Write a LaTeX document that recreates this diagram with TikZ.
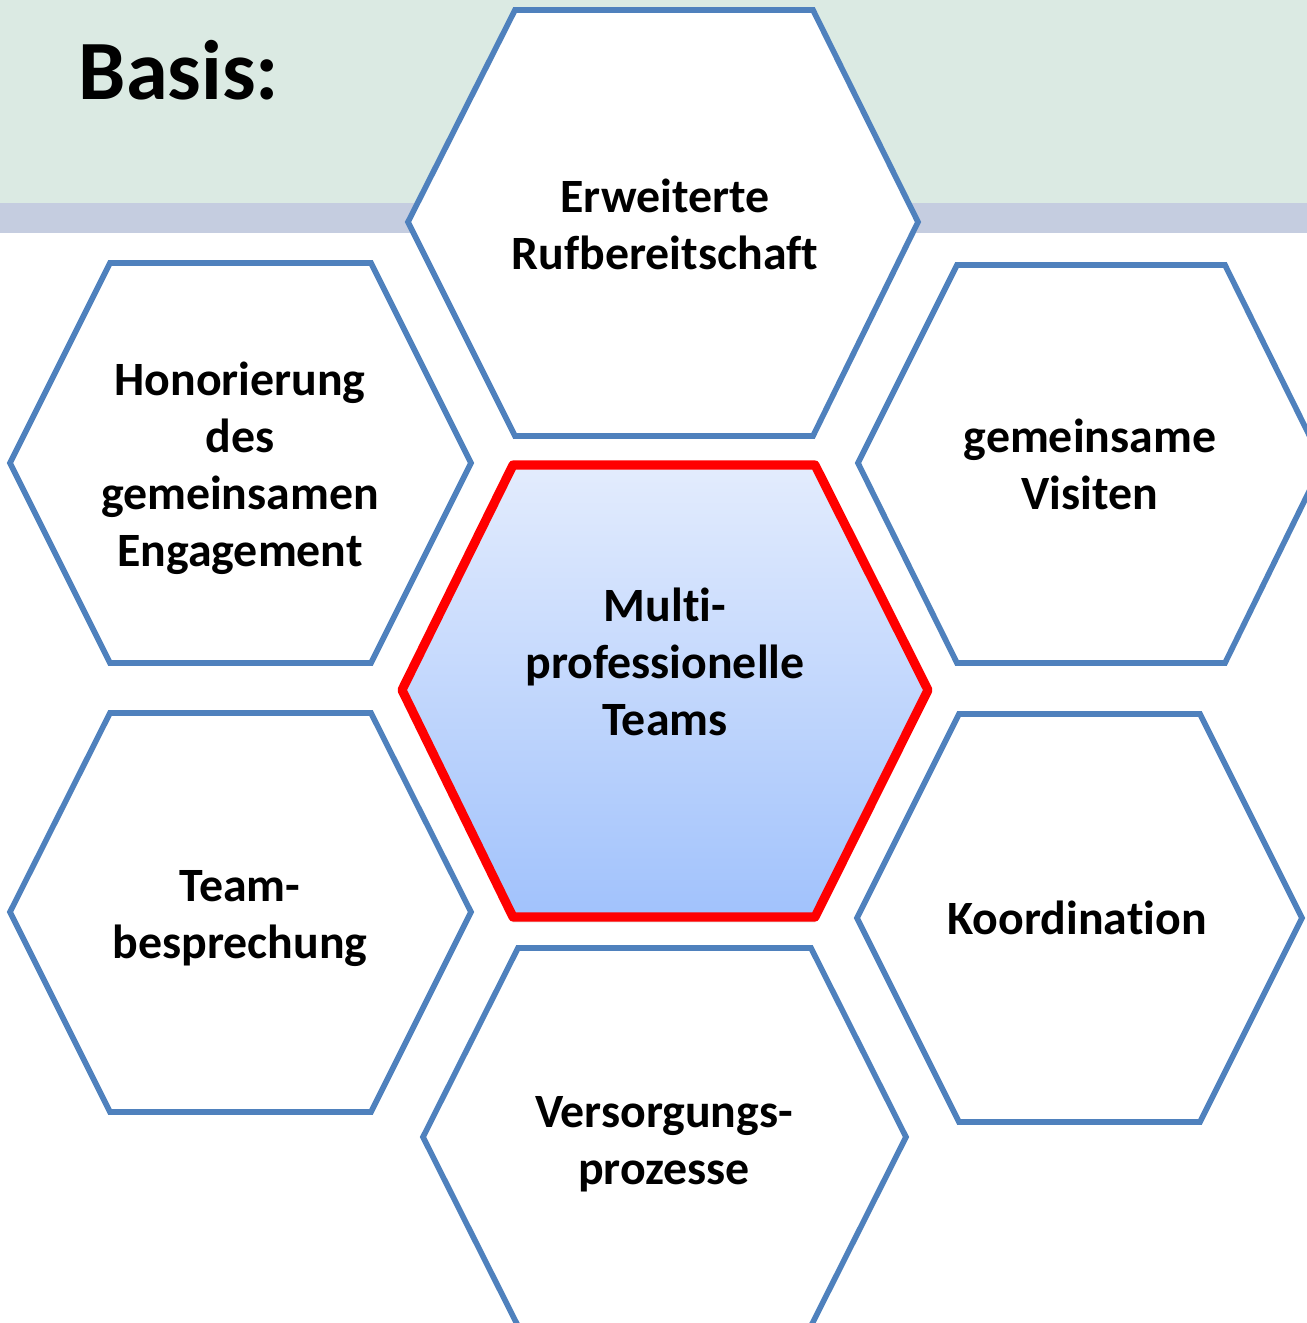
\documentclass[tikz,border=0pt]{standalone}
\usepackage{fontspec}
\setmainfont{Carlito}[Ligatures=CommonOff]
\usetikzlibrary{shadows}

\definecolor{bandgreen}{RGB}{219,234,227}
\definecolor{bandblue}{RGB}{197,205,224}
\definecolor{hexblue}{RGB}{79,129,189}
\definecolor{hexred}{RGB}{255,0,0}
\definecolor{teamtop}{RGB}{227,236,253}
\definecolor{teambottom}{RGB}{161,194,252}

\begin{document}
\begin{tikzpicture}[x=0.01cm, y=-0.01cm,
	hexa/.style={draw=hexblue, line width=1.6pt, fill=white},
	teamhex/.style={draw=hexred, line width=2.6pt, line join=round,
		top color=teamtop, bottom color=teambottom,
		drop shadow={shadow xshift=0pt, shadow yshift=-1.5pt, opacity=0.25}},
	hextext/.style={font=\bfseries\fontsize{13.6}{16.2}\selectfont, align=center, inner sep=0pt}]

\clip (0,0) rectangle (1307,1323);

% header bands
\fill[bandgreen] (0,0) rectangle (1307,203);
\fill[bandblue] (0,203) rectangle (1307,233);

% outer hexagons
\draw[hexa] (515,10) -- (813,10) -- (918,222) -- (813,436) -- (515,436) -- (408,222) -- cycle;
\draw[hexa] (110,263) -- (371,263) -- (471,463) -- (371,663) -- (110,663) -- (10,463) -- cycle;
\draw[hexa] (110,713) -- (371,713) -- (471,912) -- (371,1112) -- (110,1112) -- (10,912) -- cycle;
\draw[hexa] (957,265) -- (1225,265) -- (1323,463) -- (1225,663) -- (957,663) -- (858,463) -- cycle;
\draw[hexa] (959,714) -- (1200,714) -- (1302,918) -- (1200,1122) -- (959,1122) -- (857,918) -- cycle;
\draw[hexa] (518,948) -- (811,948) -- (906,1137) -- (811,1326) -- (518,1326) -- (423,1137) -- cycle;

% center hexagon
\draw[teamhex] (513,465) -- (815,465) -- (928,690) -- (815,917) -- (513,917) -- (402,690) -- cycle;

% labels
\node[anchor=base west, inner sep=0pt, font=\bfseries\fontsize{24}{28}\selectfont] (basis) at (78,99) {Basis:};
\node[hextext] (ruf) at (665,224) {Erweiterte\\Rufbereitschaft};
\node[hextext] (honor) at (240,468) {Honorierung\\des\\gemeinsamen\\Engagement};
\node[hextext] (visiten) at (1090,464) {gemeinsame\\Visiten};
\node[hextext] (teams) at (665,662) {Multi-\\professionelle\\Teams};
\node[hextext] (bespr) at (240,919) {Team-\\besprechung};
\node[hextext] (koord) at (1077,918) {Koordination};
\node[hextext] (prozess) at (664,1144) {Versorgungs-\\prozesse};

\end{tikzpicture}
\end{document}
